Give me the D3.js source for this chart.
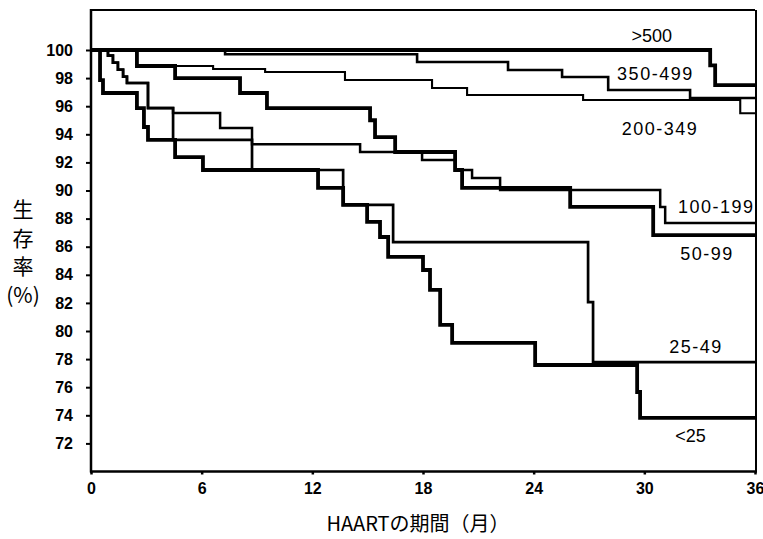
<!DOCTYPE html>
<html>
<head>
<meta charset="utf-8">
<script src="https://cdn.jsdelivr.net/npm/d3@7"></script>
<style>
  body { margin: 0; background: #fff; }
</style>
</head>
<body>
<div id="chart"></div>
<script>
// CD4 groups (labels on the curves)
var groups = [">500", "350-499", "200-349", "100-199", "50-99", "25-49", "<25"];

// months of each step and survival (%) after the step
var t_gt500  = [0, 33.57, 33.84, 36];
var s_gt500  = [100, 98.9, 97.5, 97.5];

var t_350    = [0, 7.27, 17.68, 22.61, 25.54, 28.04, 32.48, 36];
var s_350    = [100, 99.7, 99.15, 98.58, 98.08, 97.15, 96.58, 96.58];

var t_200    = [0, 2.49, 6.62, 9.44, 13.77, 18.49, 20.39, 26.68, 35.2, 36];
var s_200    = [100, 98.86, 98.65, 98.43, 97.86, 97.3, 96.8, 96.44, 95.5, 95.5];

var t_100    = [0, 0.92, 1.19, 1.46, 1.74, 1.95, 3.09, 4.45, 7.0, 8.73, 14.59, 17.95, 19.74, 20.66, 22.18, 30.86, 31.13, 36];
var s_100    = [100, 99.6, 99.1, 98.6, 98.1, 97.65, 95.87, 95.52, 94.45, 93.3, 92.74, 92.17, 91.46, 90.89, 90.04, 88.83, 87.69, 87.69];

var t_50     = [0, 2.49, 4.56, 8.08, 9.54, 15.13, 15.4, 16.49, 19.74, 20.12, 25.98, 30.48, 36];
var s_50     = [100, 98.86, 98.0, 96.94, 95.87, 95.0, 93.8, 92.74, 91.46, 90.18, 88.83, 86.83, 86.83];

var t_25     = [0, 0.92, 1.19, 1.46, 1.74, 1.95, 3.09, 4.45, 8.73, 13.67, 16.38, 26.95, 27.22, 36];
var s_25     = [100, 99.6, 99.1, 98.6, 98.1, 97.65, 95.87, 93.6, 91.46, 88.97, 86.33, 82.06, 77.79, 77.79];

var t_lt25   = [0, 0.49, 0.65, 2.49, 2.87, 3.09, 4.56, 6.07, 12.31, 13.67, 14.97, 15.67, 16.11, 18.0, 18.38, 18.93, 19.58, 24.08, 29.61, 29.77, 36];
var s_lt25   = [100, 97.86, 96.94, 95.87, 94.52, 93.6, 92.38, 91.46, 90.18, 88.97, 87.76, 86.69, 85.27, 84.34, 82.92, 80.43, 79.15, 77.58, 75.66, 73.81, 73.81];

var times = [t_gt500, t_350, t_200, t_100, t_50, t_25, t_lt25];
var survs = [s_gt500, s_350, s_200, s_100, s_50, s_25, s_lt25];

// axis ticks
var xTicks = [0, 6, 12, 18, 24, 30, 36];
var yTicks = [72, 74, 76, 78, 80, 82, 84, 86, 88, 90, 92, 94, 96, 98, 100];

// where each label sits, in chart units (month, %)
var labelAt = [[30.4, 100.55], [30.6, 97.85], [30.85, 93.95], [33.9, 88.4], [33.4, 85.05], [32.8, 78.45], [32.5, 72.1]];
var lineW = [3.8, 2.6, 2.1, 2.5, 3.8, 2.7, 3.8];

var svg = d3.select("#chart")
            .append("svg")
            .attr("width", 763)
            .attr("height", 539)
            .style("background", "#fff");

var x = d3.scaleLinear()
          .domain([0, 36])
          .range([91, 755]);

var y = d3.scaleLinear()
          .domain([70, 100])
          .range([471.5, 50]);

var yTop = 102.85; // top of the frame

// frame
svg.append("line")
   .attr("x1", x(0)).attr("x2", x(36))
   .attr("y1", y(yTop)).attr("y2", y(yTop))
   .attr("stroke", "#000").style("stroke-width", 2);
svg.append("line")
   .attr("x1", x(36) + 1).attr("x2", x(36) + 1)
   .attr("y1", y(yTop)).attr("y2", y(70))
   .attr("stroke", "#000").style("stroke-width", 2);

// Y axis
var yAxis = svg.append("g")
   .attr("transform", "translate(" + x(0) + ",0)")
   .call(d3.axisLeft(y).tickValues(yTicks).tickSize(5).tickPadding(13).tickFormat(d3.format("d")));
yAxis.select(".domain").remove();
yAxis.selectAll("line").attr("stroke", "#000").style("stroke-width", 2);
yAxis.selectAll("text")
     .style("font-family", "'Liberation Sans', Arial, sans-serif")
     .style("font-size", "16px")
     .style("font-weight", "bold")
     .attr("fill", "#000");

svg.append("line")
   .attr("x1", x(0)).attr("x2", x(0))
   .attr("y1", y(yTop) - 1).attr("y2", y(70) + 1)
   .attr("stroke", "#000").style("stroke-width", 2.5);

// X axis
var xAxis = svg.append("g")
   .attr("transform", "translate(0," + y(70) + ")")
   .call(d3.axisBottom(x).tickValues(xTicks).tickSize(3).tickPadding(8));
xAxis.select(".domain").remove();
xAxis.selectAll("line").attr("stroke", "#000").style("stroke-width", 2.5);
xAxis.selectAll("text")
     .style("font-family", "'Liberation Sans', Arial, sans-serif")
     .style("font-size", "16px")
     .style("font-weight", "bold")
     .attr("fill", "#000");

svg.append("line")
   .attr("x1", x(0) - 1).attr("x2", x(36) + 2)
   .attr("y1", y(70)).attr("y2", y(70))
   .attr("stroke", "#000").style("stroke-width", 2.5);

// text label for the x axis
svg.append("text")
   .attr("x", 418)
   .attr("y", 531)
   .style("text-anchor", "middle")
   .style("font-family", "'Noto Sans CJK JP', sans-serif")
   .style("font-size", "20px")
   .text("HAARTの期間（月）");

// text label for the y axis (stacked)
var yTitle = ["生", "存", "率", "(%)"];
svg.append("g").selectAll("text")
   .data(yTitle)
   .enter()
   .append("text")
   .attr("x", 23)
   .attr("y", function(d, i) { return 217 + i * 28.5; })
   .style("text-anchor", "middle")
   .style("font-family", "'Noto Sans CJK JP', sans-serif")
   .style("font-size", "21px")
   .text(function(d) { return d; });

// survival curves
var line = d3.line().curve(d3.curveStepAfter)
             .x(function(d) { return x(d[0]); })
             .y(function(d) { return y(d[1]); });

var order = [2, 3, 5, 1, 0, 4, 6]; // thin ones first
order.forEach(function(k) {
  var pts = times[k].map(function(t, i) { return [t, survs[k][i]]; });
  svg.append("path")
     .datum(pts)
     .attr("d", line)
     .attr("stroke", "#000")
     .style("stroke-width", lineW[k])
     .style("fill", "none");
});

// curve labels
svg.append("g").selectAll("text")
   .data(groups)
   .enter()
   .append("text")
   .attr("x", function(d, i) { return x(labelAt[i][0]); })
   .attr("y", function(d, i) { return y(labelAt[i][1]); })
   .style("text-anchor", "middle")
   .style("font-family", "'Liberation Sans', Arial, sans-serif")
   .style("font-size", "18px")
   .style("letter-spacing", function(d) { return d.indexOf("-") > 0 ? "1.5px" : "0px"; })
   .text(function(d) { return d; });
</script>
</body>
</html>
